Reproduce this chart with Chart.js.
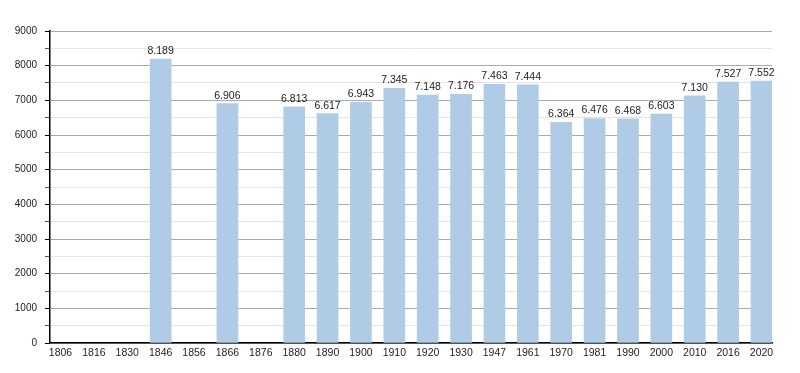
<!DOCTYPE html>
<html>
<head>
<meta charset="utf-8">
<script src="https://cdn.jsdelivr.net/npm/chart.js@4"></script>
<style>
  html, body { margin: 0; padding: 0; background: #fff; }
  #wrap { width: 800px; height: 373px; }
</style>
</head>
<body>
<div id="wrap"><canvas id="popChart"></canvas></div>
<script>
const years = [
  "1806", "1816", "1830", "1846", "1856", "1866", "1876", "1880", "1890", "1900", "1910",
  "1920", "1930", "1947", "1961", "1970", "1981", "1990", "2000", "2010", "2016", "2020",
];
const population = [
  null, null, null, 8189, null, 6906, null, 6813, 6617, 6943, 7345,
  7148, 7176, 7463, 7444, 6364, 6476, 6468, 6603, 7130, 7527, 7552,
];
const yTicks = [0, 1000, 2000, 3000, 4000, 5000, 6000, 7000, 8000, 9000];

const fmt = (v) => v.toLocaleString("de-DE");

const valueLabels = {
  id: "valueLabels",
  afterDatasetsDraw(chart) {
    const ctx = chart.ctx;
    const meta = chart.getDatasetMeta(0);
    ctx.save();
    ctx.font = "10.5px 'Liberation Sans', Arial, sans-serif";
    ctx.fillStyle = "#222";
    ctx.textAlign = "center";
    ctx.textBaseline = "alphabetic";
    meta.data.forEach((bar, i) => {
      const v = population[i];
      if (v == null) return;
      ctx.fillText(fmt(v), bar.x, bar.y - 5);
    });
    ctx.restore();
  },
};

const popChart = new Chart(document.getElementById("popChart").getContext("2d"), {
  type: "bar",
  data: {
    datasets: [
      {
        data: population.map((v, i) => ({ x: i, y: v })),
        backgroundColor: "#b0cbe5",
        borderWidth: 0,
        barThickness: 21,
      },
    ],
  },
  options: {
    responsive: true,
    maintainAspectRatio: false,
    animation: false,
    layout: {
      padding: { left: 0, right: 28, top: 31, bottom: 0 },
    },
    plugins: {
      legend: { display: false },
      tooltip: { enabled: false },
    },
    scales: {
      x: {
        type: "linear",
        offset: false,
        min: -0.315,
        max: 21.315,
        afterFit: (scale) => { scale.height = 30; },
        grid: { display: false, drawTicks: false },
        border: { display: true, color: "#000", width: 1.5 },
        ticks: {
          stepSize: 1,
          includeBounds: false,
          autoSkip: false,
          maxRotation: 0,
          padding: 4,
          color: "#222",
          font: { family: "'Liberation Sans', Arial, sans-serif", size: 10.5 },
          callback: (value) => years[value] ?? "",
        },
      },
      y: {
        min: 0,
        max: 9000,
        afterFit: (scale) => { scale.width = 50; },
        border: { display: true, color: "#000", width: 1.5 },
        grid: {
          color: (c) => (c.tick && c.tick.value % 1000 === 0 ? "#aaaaaa" : "#e4e4e4"),
          tickColor: (c) => (c.tick && c.tick.value % 1000 === 0 ? "#000" : "#555"),
          tickLength: 5,
          lineWidth: 1,
        },
        ticks: {
          stepSize: 500,
          padding: 8,
          color: "#222",
          font: { family: "'Liberation Sans', Arial, sans-serif", size: 10 },
          callback: (value) => (yTicks.includes(value) ? String(value) : ""),
        },
      },
    },
  },
  plugins: [valueLabels],
});
</script>
</body>
</html>
